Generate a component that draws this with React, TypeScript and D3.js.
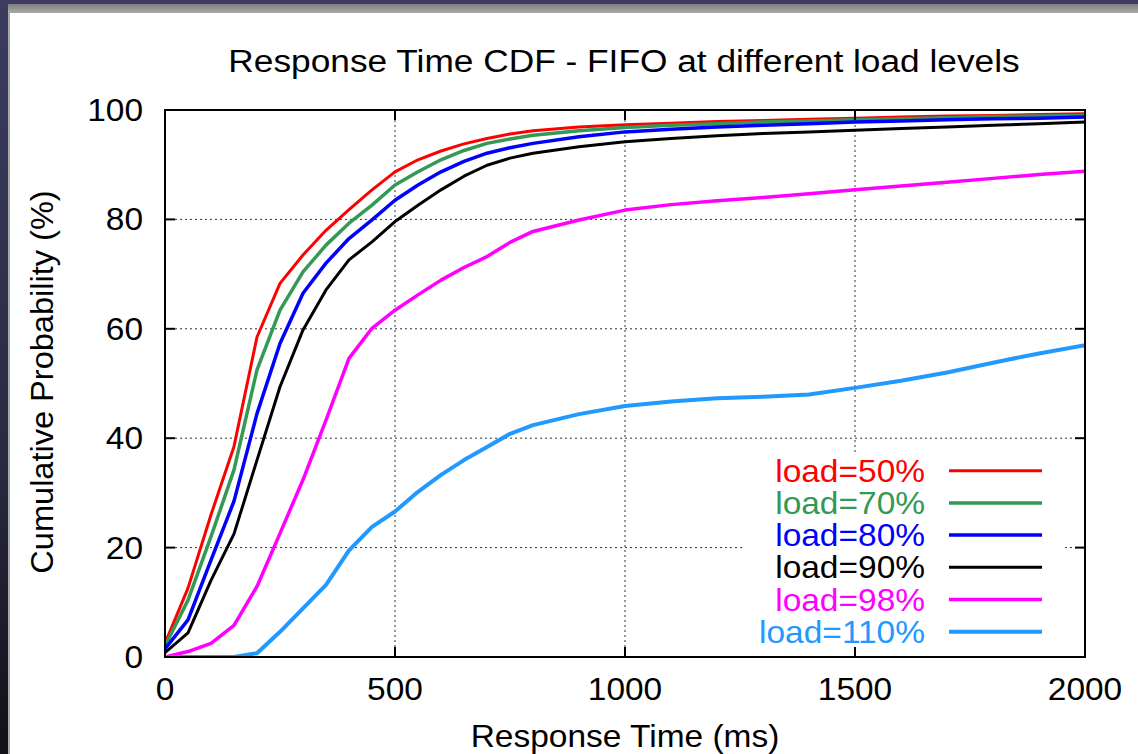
import React from "react";
import * as d3 from "d3";

// Response time samples (ms) shared by every load level
const responseTimes = [
  0, 50, 100, 150, 200, 250, 300, 350, 400, 450, 500, 550, 600, 650, 700, 750, 800,
  900, 1000, 1100, 1200, 1300, 1400, 1500, 1600, 1700, 1800, 1900, 2000,
];

// Cumulative probability (%) per load level
const load50 = [
  2.5, 12.6, 26, 38.5, 58.5, 68.3, 73.5, 78, 81.8, 85.4, 88.7, 90.9, 92.5, 93.8, 94.8, 95.6, 96.2,
  96.9, 97.3, 97.6, 97.9, 98.1, 98.3, 98.5, 98.7, 98.9, 99.0, 99.2, 99.3,
];
const load70 = [
  2, 10.4, 22, 34.2, 52.5, 63.4, 70.4, 75.3, 79.3, 82.6, 86.3, 88.7, 90.9, 92.6, 93.9, 94.7, 95.4,
  96.2, 96.8, 97.2, 97.5, 97.8, 98.0, 98.2, 98.4, 98.6, 98.8, 98.9, 99.0,
];
const load80 = [
  1.5, 6.8, 17.7, 28.5, 44.5, 57.3, 66.5, 72, 76.5, 79.9, 83.5, 86.3, 88.7, 90.6, 92.1, 93.1, 93.9,
  95.1, 96.0, 96.5, 96.9, 97.2, 97.5, 97.8, 98.0, 98.2, 98.4, 98.5, 98.7,
];
const load90 = [
  0.8, 4.4, 14.0, 22.5, 36, 49.4, 59.8, 67.1, 72.6, 75.9, 79.6, 82.6, 85.4, 87.9, 89.9, 91.2, 92.1,
  93.3, 94.2, 94.8, 95.3, 95.7, 96.0, 96.3, 96.6, 96.9, 97.2, 97.5, 97.8,
];
const load98 = [
  0, 1, 2.5, 5.8, 12.9, 22.6, 32.4, 43.3, 54.6, 60.1, 63.4, 66.2, 68.9, 71.2, 73.2, 75.8, 77.8,
  79.9, 81.7, 82.7, 83.4, 84.0, 84.7, 85.4, 86.1, 86.8, 87.5, 88.2, 88.8,
];
const load110 = [
  0, 0, 0, 0, 0.7, 4.6, 8.9, 13.2, 19.5, 23.8, 26.6, 30.2, 33.3, 36, 38.4, 40.8, 42.4,
  44.4, 45.9, 46.7, 47.3, 47.6, 48.0, 49.2, 50.5, 52, 53.8, 55.5, 57,
];

const seriesLabels = ["load=50%", "load=70%", "load=80%", "load=90%", "load=98%", "load=110%"];
const seriesValues = [load50, load70, load80, load90, load98, load110];
const seriesColors = ["#ff0000", "#339955", "#0000ff", "#000000", "#ff00ff", "#2299ff"];
const seriesWidths = [3, 3.5, 3.5, 3, 3.5, 4];

const xTicks = [0, 500, 1000, 1500, 2000];
const yTicks = [0, 20, 40, 60, 80, 100];

const W = 1138;
const H = 754;
const plot = { left: 165, right: 1085, top: 110, bottom: 657 };
const FONT = "'Liberation Sans', Arial, Helvetica, sans-serif";
const FS = 31;
const SX = 1.08;

export default function App() {
  const x = d3.scaleLinear().domain([0, 2000]).range([plot.left, plot.right]);
  const y = d3.scaleLinear().domain([0, 100]).range([plot.bottom, plot.top]);
  const line = d3
    .line<number>()
    .x((_, i) => x(responseTimes[i]))
    .y((d) => y(d));

  const legendTextX = 925;
  const legendLineX0 = 949;
  const legendLineX1 = 1042;
  const legendY0 = 470.7;
  const legendStep = 32.2;

  return (
    <div style={{ position: "fixed", left: 0, top: 0 }}>
      <svg width={W} height={H} style={{ display: "block" }}>
        <defs>
          <linearGradient id="frame" x1="0" y1="0" x2="0" y2="1">
            <stop offset="0" stopColor="#3d3c60" />
            <stop offset="0.6" stopColor="#2a2a42" />
            <stop offset="1" stopColor="#111119" />
          </linearGradient>
          <linearGradient id="bevelTop" x1="0" y1="0" x2="0" y2="1">
            <stop offset="0" stopColor="#7f7f82" />
            <stop offset="1" stopColor="#a9a9a9" />
          </linearGradient>
          <clipPath id="plotClip">
            <rect x={plot.left} y={plot.top} width={plot.right - plot.left} height={plot.bottom - plot.top} />
          </clipPath>
        </defs>

        {/* slide frame */}
        <rect x={0} y={0} width={W} height={H} fill="url(#frame)" />
        <rect x={8} y={4} width={W - 8} height={9} fill="url(#bevelTop)" />
        <rect x={8} y={10} width={2} height={H - 10} fill="#a8a8a8" />
        <rect x={10} y={13} width={W - 10} height={H - 13} fill="#ffffff" />

        {/* grid */}
        <g stroke="#333" strokeWidth={1} strokeDasharray="2,3">
          {yTicks.slice(1, -1).map((t) => (
            <line key={"gy" + t} x1={plot.left} x2={plot.right} y1={y(t)} y2={y(t)} />
          ))}
          {xTicks.slice(1, -1).map((t) => (
            <line key={"gx" + t} x1={x(t)} x2={x(t)} y1={plot.top} y2={plot.bottom} />
          ))}
        </g>

        {/* curves */}
        <g clipPath="url(#plotClip)" fill="none" strokeLinejoin="round">
          {seriesValues.map((vals, i) => (
            <path key={seriesLabels[i]} d={line(vals) || ""} stroke={seriesColors[i]} strokeWidth={seriesWidths[i]} />
          ))}
        </g>

        {/* legend */}
        <rect x={743} y={455} width={320} height={192} fill="#ffffff" />
        {seriesLabels.map((lab, i) => {
          const cy = legendY0 + i * legendStep;
          return (
            <g key={"lg" + lab}>
              <text
                transform={`translate(${legendTextX},${cy + 11}) scale(${SX},1)`}
                textAnchor="end"
                fontFamily={FONT}
                fontSize={FS}
                fill={seriesColors[i]}
              >
                {lab}
              </text>
              <line x1={legendLineX0} x2={legendLineX1} y1={cy} y2={cy} stroke={seriesColors[i]} strokeWidth={seriesWidths[i]} />
            </g>
          );
        })}

        {/* ticks (inside, mirrored) */}
        <g stroke="#000" strokeWidth={2}>
          {yTicks.map((t) => (
            <g key={"ty" + t}>
              <line x1={plot.left} x2={plot.left + 10} y1={y(t)} y2={y(t)} />
              <line x1={plot.right - 10} x2={plot.right} y1={y(t)} y2={y(t)} />
            </g>
          ))}
          {xTicks.map((t) => (
            <g key={"tx" + t}>
              <line x1={x(t)} x2={x(t)} y1={plot.bottom} y2={plot.bottom - 10} />
              <line x1={x(t)} x2={x(t)} y1={plot.top} y2={plot.top + 10} />
            </g>
          ))}
        </g>

        {/* frame */}
        <rect
          x={plot.left}
          y={plot.top}
          width={plot.right - plot.left}
          height={plot.bottom - plot.top}
          fill="none"
          stroke="#000"
          strokeWidth={2}
        />

        {/* tick labels */}
        <g fontFamily={FONT} fontSize={FS} fill="#000">
          {yTicks.map((t) => (
            <text key={"ly" + t} transform={`translate(143,${y(t) + 11}) scale(${SX},1)`} textAnchor="end">
              {t}
            </text>
          ))}
          {xTicks.map((t) => (
            <text key={"lx" + t} transform={`translate(${x(t)},700) scale(${SX},1)`} textAnchor="middle">
              {t}
            </text>
          ))}
        </g>

        {/* titles */}
        <text
          transform="translate(624,72) scale(1.12,1)"
          textAnchor="middle"
          fontFamily={FONT}
          fontSize={31.5}
          fill="#000"
        >
          Response Time CDF - FIFO at different load levels
        </text>
        <text
          transform={`translate(625,747) scale(${SX},1)`}
          textAnchor="middle"
          fontFamily={FONT}
          fontSize={FS}
          fill="#000"
        >
          Response Time (ms)
        </text>
        <text
          transform="translate(53,382) rotate(-90) scale(1.05,1)"
          textAnchor="middle"
          fontFamily={FONT}
          fontSize={FS}
          fill="#000"
        >
          Cumulative Probability (%)
        </text>
      </svg>
    </div>
  );
}
